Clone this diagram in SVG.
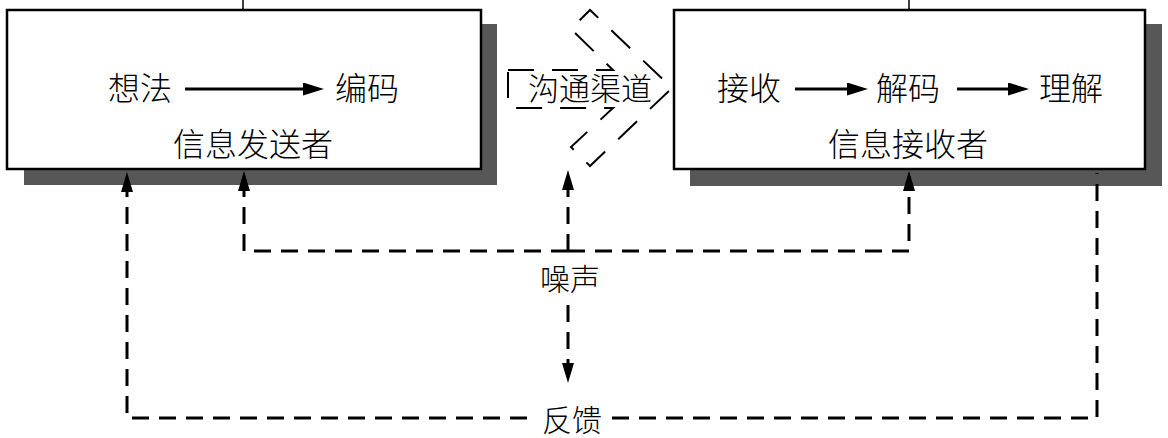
<svg xmlns="http://www.w3.org/2000/svg" width="1168" height="438" viewBox="0 0 1168 438">
<style>
.shadow{fill:#575757;stroke:none}
.box{fill:#fff;stroke:#000;stroke-width:2.5}
.t{font-family:"Noto Sans CJK SC","Noto Sans",sans-serif;font-weight:300;fill:#000;text-anchor:middle}
.big{font-size:32px}
.mid{font-size:30px}
.solid{fill:none;stroke:#000;stroke-width:3}
.dash{fill:none;stroke:#000;stroke-width:3;stroke-dasharray:17 10}
.chan{fill:none;stroke:#000;stroke-width:2;stroke-dasharray:26 18}
.tick{stroke:#000;stroke-width:1.5}
</style>
<defs>
<marker id="ah" markerUnits="userSpaceOnUse" markerWidth="21" markerHeight="13" refX="10" refY="6.5" orient="auto">
<path d="M0,0 L21,6.5 L0,13 z" fill="#000"/>
</marker>
<marker id="dh" markerUnits="userSpaceOnUse" markerWidth="20" markerHeight="12" refX="9" refY="6" orient="auto">
<path d="M0,0 L20,6 L0,12 z" fill="#000"/>
</marker>
</defs>
<rect width="1168" height="438" fill="#fff"/>

<g id="sender">
<rect class="shadow" x="24" y="24" width="473" height="161"/>
<rect class="box" x="7" y="10" width="474" height="159"/>
<text class="t big" x="140" y="100">想法</text>
<text class="t big" x="367" y="100">编码</text>
<text class="t big" x="253" y="156">信息发送者</text>
</g>

<g id="receiver">
<rect class="shadow" x="690" y="24" width="472" height="162"/>
<rect class="box" x="674" y="10" width="471" height="159"/>
<text class="t big" x="749" y="100">接收</text>
<text class="t big" x="908" y="100">解码</text>
<text class="t big" x="1071" y="100">理解</text>
<text class="t big" x="908" y="156">信息接收者</text>
</g>

<g id="channel">
<polygon class="chan" points="508,70 613,70 571,29 590,10 672,88 590,166 571,147 613,108 508,108"/>
<text class="t" style="font-size:31px" x="590" y="100">沟通渠道</text>
</g>

<g id="noise">
<text class="t mid" x="570" y="290">噪声</text>
</g>

<g id="feedback">
<text class="t mid" x="572" y="431">反馈</text>
</g>

<g id="connectors">
<line class="tick" x1="243" y1="0" x2="243" y2="9"/>
<line class="tick" x1="909" y1="0" x2="909" y2="9"/>
<path class="solid" d="M185,89 H313" marker-end="url(#ah)"/>
<path class="solid" d="M795,89 H857" marker-end="url(#ah)"/>
<path class="solid" d="M957,89 H1018" marker-end="url(#ah)"/>
<path class="dash" d="M568,251 H244 V182" marker-end="url(#dh)"/>
<path class="dash" d="M568,251 H909 V182" marker-end="url(#dh)"/>
<path class="dash" d="M568,251 V181" marker-end="url(#dh)"/>
<path class="dash" d="M568,305 V372" marker-end="url(#dh)"/>
<path class="dash" d="M527,418 H127 V183" marker-end="url(#dh)"/>
<path class="dash" d="M612,418 H1097 V173"/>
</g>
</svg>
